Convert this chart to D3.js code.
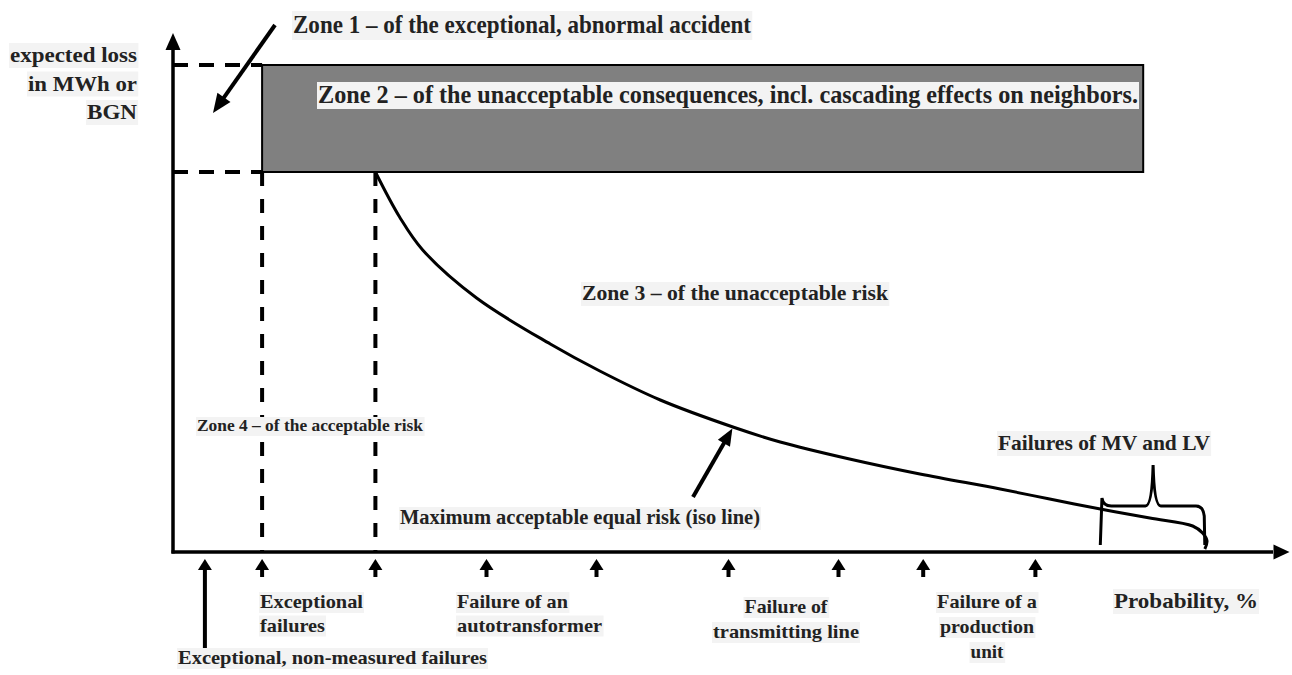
<!DOCTYPE html>
<html><head><meta charset="utf-8">
<script src="https://cdn.jsdelivr.net/npm/d3@7"></script>
<style>body{margin:0;background:#fff}</style></head>
<body><svg id="c" width="1292" height="675"></svg>
<script>
// ---- data (schematic units: probability 0..100, expected loss 0..100) ----
const isoProb = [18.4, 20.6, 22.7, 27.6, 34.3, 38.8, 44.3, 50.9, 55.2, 61.5, 67.9, 75.2, 79.7, 84.3, 88.8, 92.7, 93.6, 94.0, 93.8];
const isoLoss = [76, 67, 60.4, 50.8, 41.6, 36.2, 30.4, 25, 22, 18.6, 15.6, 12.6, 10.6, 8.6, 6.8, 5.2, 3.8, 2.2, 0.6];
const zone2Prob = [8.1, 88.2];
const zone2Loss = [76, 97.4];
const boundaryProb = [8.1, 18.4];
const tickArrowProb = [2.9, 8.1, 18.4, 28.5, 38.5, 50.5, 60.5, 68.2, 78.4];
const braceProb = [84.3, 89.1, 93.8];
const braceLoss = [1.4, 9.2, 17.4];
const yLabelLines = ["expected loss", "in MWh or", "BGN"];
const zoneTexts = ["Zone 1 – of the exceptional, abnormal accident",
  "Zone 2 – of the unacceptable consequences, incl. cascading effects on neighbors.",
  "Zone 3 – of the unacceptable risk",
  "Zone 4 – of the acceptable risk"];
const isoText = "Maximum acceptable equal risk (iso line)";
const mvText = "Failures of MV and LV";
const xTitle = "Probability, %";
const bottomLabels = [["Exceptional, non-measured failures"], ["Exceptional", "failures"],
  ["Failure of an", "autotransformer"], ["Failure of", "transmitting line"], ["Failure of a", "production", "unit"]];

// ---- drawing ----
const svg = d3.select("#c");
const x = d3.scaleLinear().domain([0, 100]).range([173, 1273]);
const y = d3.scaleLinear().domain([0, 100]).range([552, 52]);
const FONT = "'Liberation Serif','Times New Roman',Times,serif";

function head(tip, from, len, hw) {
  const dx = tip[0] - from[0], dy = tip[1] - from[1];
  const L = Math.hypot(dx, dy), ux = dx / L, uy = dy / L;
  const bx = tip[0] - ux * len, by = tip[1] - uy * len;
  svg.append("path")
    .attr("d", `M${tip[0]},${tip[1]}L${bx - uy * hw},${by + ux * hw}L${bx + uy * hw},${by - ux * hw}Z`)
    .attr("fill", "#000");
}
function arrow(from, tip, len, hw, w) {
  const dx = tip[0] - from[0], dy = tip[1] - from[1];
  const L = Math.hypot(dx, dy);
  svg.append("line").attr("x1", from[0]).attr("y1", from[1])
    .attr("x2", tip[0] - dx / L * (len - 2)).attr("y2", tip[1] - dy / L * (len - 2))
    .attr("stroke", "#000").attr("stroke-width", w);
  head(tip, from, len, hw);
}

// zone 2 rectangle
svg.append("rect")
  .attr("x", x(zone2Prob[0])).attr("y", y(zone2Loss[1]))
  .attr("width", x(zone2Prob[1]) - x(zone2Prob[0]))
  .attr("height", y(zone2Loss[0]) - y(zone2Loss[1]))
  .attr("fill", "#808080").attr("stroke", "#000").attr("stroke-width", 2);

// dashed guides
zone2Loss.forEach(v => svg.append("line")
  .attr("x1", x(0)).attr("x2", x(zone2Prob[0])).attr("y1", y(v)).attr("y2", y(v))
  .attr("stroke", "#000").attr("stroke-width", 4).attr("stroke-dasharray", "15,11"));
boundaryProb.forEach(v => svg.append("line")
  .attr("x1", x(v)).attr("x2", x(v)).attr("y1", y(zone2Loss[0])).attr("y2", y(0))
  .attr("stroke", "#000").attr("stroke-width", 4).attr("stroke-dasharray", "14,13"));

// axes
svg.append("line").attr("x1", x(0)).attr("x2", x(0)).attr("y1", y(0) + 1.5).attr("y2", y(101))
  .attr("stroke", "#000").attr("stroke-width", 3.5);
head([x(0), y(103.8)], [x(0), y(0)], 17, 7.5);
svg.append("line").attr("x1", x(0) - 1.5).attr("x2", x(100)).attr("y1", y(0)).attr("y2", y(0))
  .attr("stroke", "#000").attr("stroke-width", 3.5);
head([x(101.5), y(0)], [x(0), y(0)], 16, 7.5);

// iso line
svg.append("path")
  .datum(isoProb.map((p, i) => [p, isoLoss[i]]))
  .attr("d", d3.line().x(d => x(d[0])).y(d => y(d[1])).curve(d3.curveCatmullRom.alpha(0.5)))
  .attr("fill", "none").attr("stroke", "#000").attr("stroke-width", 3);

// brace for MV / LV
const [b0, bm, b1] = braceProb, [bl, bc, bt] = braceLoss;
svg.append("path")
  .attr("d", `M${x(b0)},${y(bl)}L${x(b0 + 0.15)},${y(bc + 1.6)}Q${x(b0 + 0.25)},${y(bc)} ${x(b0 + 1)},${y(bc)}`
    + `L${x(bm - 0.7)},${y(bc)}Q${x(bm - 0.1)},${y(bc)} ${x(bm)},${y(bt)}`
    + `Q${x(bm + 0.1)},${y(bc)} ${x(bm + 0.7)},${y(bc)}L${x(b1 - 0.8)},${y(bc)}`
    + `Q${x(b1 - 0.15)},${y(bc)} ${x(b1 - 0.05)},${y(bc - 2)}L${x(b1)},${y(bl)}`)
  .attr("fill", "none").attr("stroke", "#000").attr("stroke-width", 3);

// tick arrows under x axis
tickArrowProb.forEach((p, i) => {
  const tip = [x(p), y(0) + 7];
  const end = i === 0 ? 650 : 577;
  arrow([x(p), end], tip, 11, 7, 4);
});

// pointer arrows
arrow([275, 25], [213, 113], 19, 8, 4);
arrow([693, 497], [x(isoProb[7]) - 0.5, y(isoLoss[7]) + 1.5], 17, 7, 4);

// labels
function label(lines, px, py, lh, anchor, size, lens) {
  const g = svg.append("g");
  const bg = g.append("g");
  lines.forEach((t, i) => {
    const tx = g.append("text").text(t)
      .attr("x", px).attr("y", py + i * lh)
      .attr("text-anchor", anchor)
      .style("font-family", FONT).attr("font-weight", "bold")
      .attr("font-size", size).attr("fill", "#222");
    if (lens && lens[i]) tx.attr("textLength", lens[i]).attr("lengthAdjust", "spacingAndGlyphs");
    const b = tx.node().getBBox();
    bg.append("rect").attr("x", b.x - 1).attr("y", b.y + 1).attr("width", b.width + 2).attr("height", b.height)
      .attr("fill", "#f3f3f3");
  });
}
label(yLabelLines, 137, 62, 28.5, "end", 22, [127, 109, 50]);
label([zoneTexts[0]], 293, 33, 0, "start", 26, [458]);
label([zoneTexts[1]], 318, 103, 0, "start", 25, [820]);
label([zoneTexts[2]], 582, 300, 0, "start", 21, [306]);
label([zoneTexts[3]], 197, 431, 0, "start", 17, [226]);
label([isoText], 400, 524, 0, "start", 20, [360]);
label([mvText], 998, 450, 0, "start", 22, [212]);
label([xTitle], 1114, 608, 0, "start", 22, [144]);
label(bottomLabels[0], 178, 664, 0, "start", 19, [309]);
label(bottomLabels[1], 260, 608, 23.5, "start", 19, [103, 65]);
label(bottomLabels[2], 457, 608, 23.5, "start", 19, [111, 145]);
label(bottomLabels[3], 786, 613, 25, "middle", 19, [83, 146]);
label(bottomLabels[4], 987, 608, 25, "middle", 19, [100, 94, 33]);
</script></body></html>
